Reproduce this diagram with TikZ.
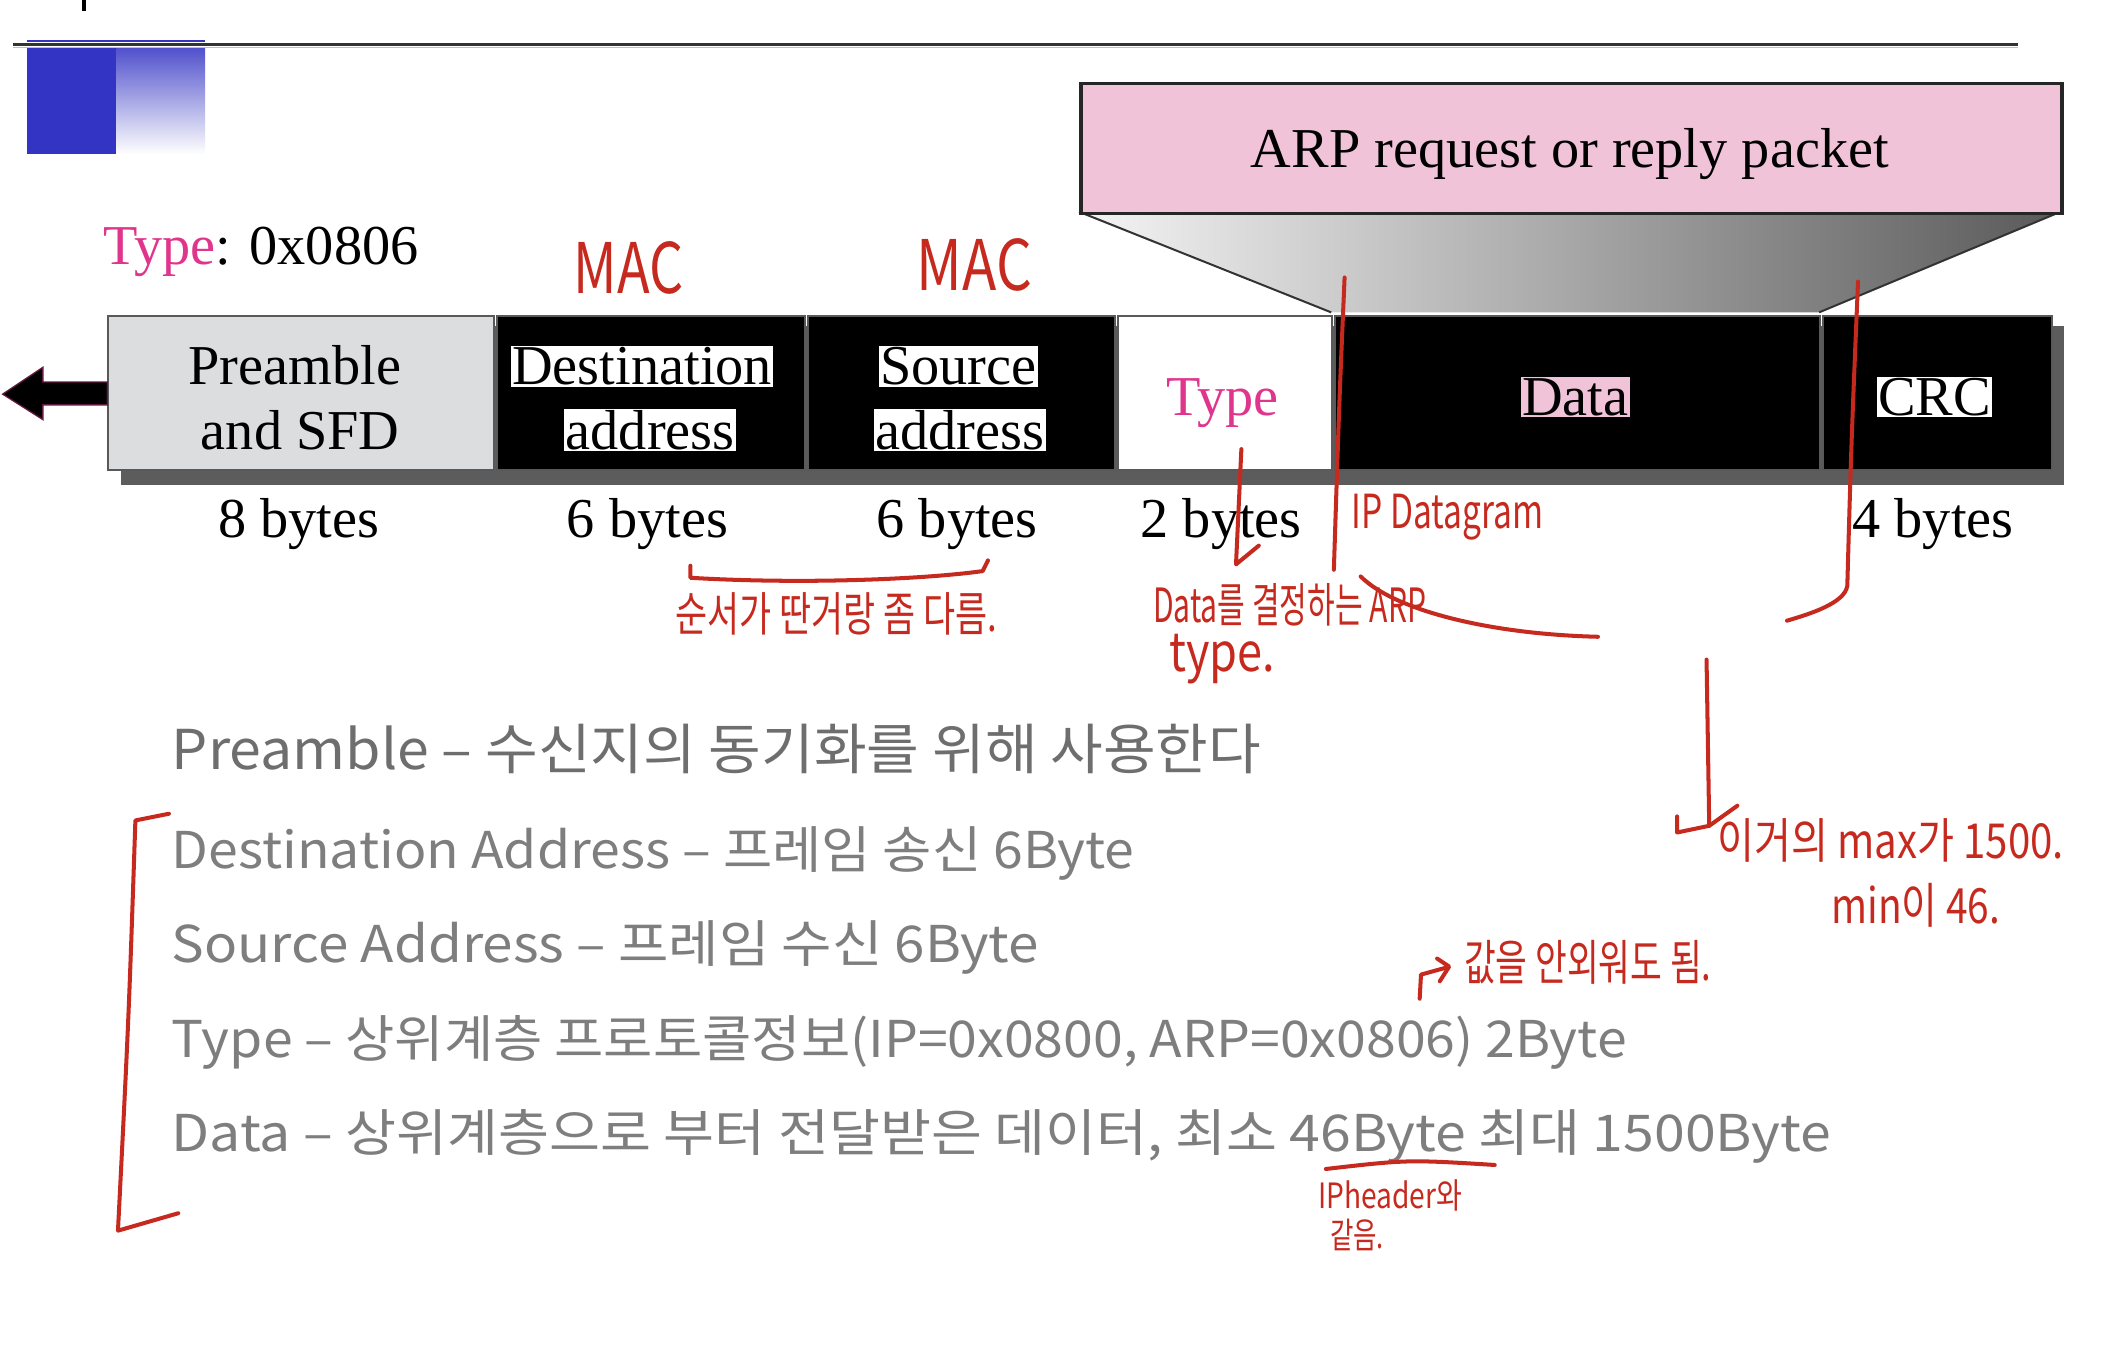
\documentclass[tikz,border=0pt]{standalone}
\usepackage{graphicx}
\usepackage{fontspec}
\setmainfont{Liberation Serif}
\newfontfamily\kr{Noto Sans CJK KR}
\newcommand\stretchy[3]{\scalebox{#1}[#2]{#3}}
\definecolor{annot}{HTML}{C62A1F}
\definecolor{kgray}{HTML}{7E7E7E}
\definecolor{kdark}{HTML}{6E6E6E}
\definecolor{pinkbox}{HTML}{F0C3D8}
\definecolor{magen}{HTML}{E0358C}
\definecolor{slideblue}{HTML}{3333C4}
\definecolor{boxgray}{HTML}{DCDDDF}
\definecolor{shadowgray}{HTML}{5C5C5C}
\begin{document}
\begin{tikzpicture}[x=1pt,y=-1pt,
  serif/.style={font=\fontsize{42}{48}\selectfont, inner sep=0pt},
  field/.style={draw=black!65, line width=1.5pt, inner sep=0pt, anchor=north west, minimum height=115pt},
  hilite/.style={serif, fill=#1, inner xsep=1pt, inner ysep=1pt},
  kor/.style={font=\kr\fontsize{36}{40}\selectfont, text=kgray, anchor=base west, inner sep=0pt},
  hand/.style={font=\kr\fontsize{#1}{#1}\selectfont, text=annot, inner sep=0pt},
  hand/.default=26,
  pen/.style={draw=annot, line width=3pt, line cap=round, line join=round},
]
\useasboundingbox (0,0) rectangle (1568,1010);

% slide decoration
\draw[line width=3pt] (63,0) -- (63,8);
\fill[slideblue] (20,29.5) rectangle (153,31.5);
\draw[line width=2.5pt, black!80] (10,33) -- (1505,33);
\draw[line width=1pt, black!25] (10,35.5) -- (1505,35.5);
\fill[slideblue] (20,36) rectangle (87,115);
\shade[top color=slideblue!85, bottom color=white] (87,36) rectangle (153,115);

% Type label
\node[serif, anchor=base west] (typelabel) at (77,197) {\textcolor{magen}{Type}: 0x0806};

% ARP packet box and funnel
\shade[left color=black!4, right color=black!65] (805,158) -- (1537,158) -- (1357,233) -- (993,233) -- cycle;
\draw[black!80, line width=1.5pt] (805,158) -- (993,233) (1537,158) -- (1357,233);
\node[draw=black!85, line width=2.5pt, fill=pinkbox, minimum width=732pt, minimum height=97pt, inner sep=0pt, anchor=north west] (arp) at (805,61) {};
\node[serif, anchor=base] (arptext) at (1171,125) {ARP request or reply packet};

% frame row
\fill[shadowgray] (90,243) rectangle (1540,362);
\node[field, fill=boxgray, minimum width=288pt] (pre) at (80,235) {};
\node[field, fill=black, minimum width=230pt] (dst) at (370,235) {};
\node[field, fill=black, minimum width=229pt] (src) at (602,235) {};
\node[field, fill=white, minimum width=160pt] (typ) at (833,235) {};
\node[field, fill=black, minimum width=362pt] (dat) at (995,235) {};
\node[field, fill=black, minimum width=171pt] (crc) at (1359,235) {};

\node[serif, anchor=base] (pre1) at (220,287) {Preamble};
\node[serif, anchor=base] (pre2) at (224,335) {and SFD};
\node[hilite=white, anchor=base] (dst1) at (479,287) {Destination};
\node[hilite=white, anchor=base] (dst2) at (485,335) {address};
\node[hilite=white, anchor=base] (src1) at (715,287) {Source};
\node[hilite=white, anchor=base] (src2) at (716,335) {address};
\node[serif, text=magen, anchor=base] (typ1) at (912,310) {Type};
\node[hilite=pinkbox, anchor=base] (dat1) at (1175,310) {Data};
\node[hilite=white, anchor=base] (crc1) at (1443,310) {CRC};

% outgoing arrow
\draw[fill=black, draw=magen!45!black, line width=1pt] (80,285) -- (32,285) -- (32,274) -- (2,294) -- (32,313) -- (32,302) -- (80,302) -- cycle;

% byte counts
\node[serif, anchor=base] (b1) at (223,401) {8 bytes};
\node[serif, anchor=base] (b2) at (483,401) {6 bytes};
\node[serif, anchor=base] (b3) at (714,401) {6 bytes};
\node[serif, anchor=base] (b4) at (911,401) {2 bytes};
\node[serif, anchor=base] (b5) at (1442,401) {4 bytes};

% Korean description
\node[kor, text=kdark, font=\kr\fontsize{39}{44}\selectfont] (k0) at (128,574) {\stretchy{1.095}{1.05}{Preamble – 수신지의 동기화를 위해 사용한다}};
\node[kor] (k1) at (128,648) {\stretchy{1.11}{1.05}{Destination Address – 프레임 송신 6Byte}};
\node[kor] (k2) at (128,718) {\stretchy{1.135}{1.05}{Source Address – 프레임 수신 6Byte}};
\node[kor] (k3) at (128,789) {\stretchy{1.11}{1.05}{Type – 상위계층 프로토콜정보(IP=0x0800, ARP=0x0806) 2Byte}};
\node[kor] (k4) at (128,859) {\stretchy{1.148}{1.05}{Data – 상위계층으로 부터 전달받은 데이터, 최소 46Byte 최대 1500Byte}};

% handwritten annotations
\node[hand=40] (mac1) at (469,200) {\stretchy{1}{1.3}{MAC}};
\node[hand=40] (mac2) at (727,198) {\stretchy{1.05}{1.3}{MAC}};
\draw[pen] (1003,207) .. controls (999,300) .. (995,425);
\draw[pen] (1386,210) .. controls (1381,330) .. (1378,437) .. controls (1376,450) and (1350,458) .. (1333,463);
\draw[pen] (926,335) -- (922,421) -- (939,407);
\node[hand=25, anchor=west] (ipd) at (1008,386) {\stretchy{1}{1.4}{IP Datagram}};
\draw[pen] (515,422) -- (515,431) .. controls (600,436) and (690,432) .. (733,426) -- (737,418);
\node[hand=26] (order) at (624,458) {\stretchy{1}{1.35}{순서가 딴거랑 좀 다름.}};
\node[hand=22, anchor=west] (arpnote) at (860,451) {\stretchy{1.02}{1.6}{Data를 결정하는 ARP}};
\node[hand=32, anchor=west] (typenote) at (872,492) {\stretchy{1.05}{1.25}{type.}};
\draw[pen] (1015,430) .. controls (1040,455) and (1110,473) .. (1192,475);
\draw[pen] (1273,492) -- (1275,616);
\draw[pen] (1251,609) -- (1251,621) -- (1275,616) -- (1296,601);
\node[hand=30, anchor=west] (maxnote) at (1281,627) {\stretchy{1}{1.2}{이거의 max가 1500.}};
\node[hand=29, anchor=west] (minnote) at (1366,675) {\stretchy{1}{1.25}{min이 46.}};
\draw[pen] (1059,745) -- (1060,727) -- (1078,722);
\draw[pen] (1072,715) -- (1081,721) -- (1074,732);
\node[hand=25, anchor=west] (memo) at (1092,718) {\stretchy{1.03}{1.45}{값을 안외워도 됨.}};
\draw[pen] (989,872) .. controls (1050,865) .. (1115,869);
\node[hand=20, anchor=west] (iph) at (983,892) {\stretchy{1.05}{1.3}{IPheader와}};
\node[hand=19, anchor=west] (same) at (992,921) {\stretchy{1}{1.4}{같음.}};
\draw[pen] (126,607) -- (101,612) .. controls (96,760) .. (88,918) -- (133,905);
\end{tikzpicture}
\end{document}
